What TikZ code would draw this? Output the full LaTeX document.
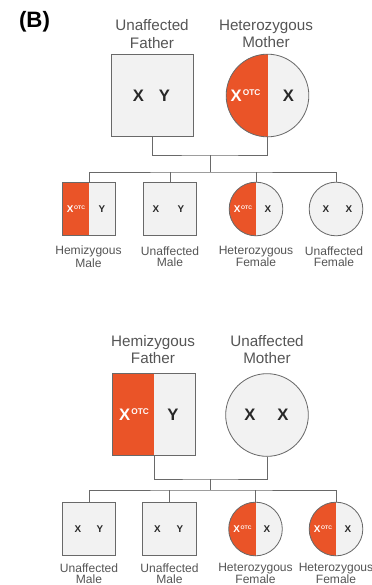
\documentclass[tikz,border=0pt]{standalone}
\usepackage{fontspec}
\setmainfont{Liberation Sans}
\usepackage{tikz}
\usetikzlibrary{calc,positioning}
\definecolor{otcred}{RGB}{234,84,40}
\definecolor{shapefill}{RGB}{242,242,242}
\definecolor{shapeedge}{RGB}{105,105,105}
\definecolor{labelgray}{RGB}{85,85,85}
\definecolor{allelecol}{RGB}{40,40,40}
\tikzset{
  parentsize/.style={minimum size=2.48cm},
  childsize/.style={minimum size=1.61cm},
  malebox/.style={rectangle,draw=shapeedge,fill=shapefill,line width=0.7pt,inner sep=0pt},
  femalecirc/.style={circle,draw=shapeedge,fill=shapefill,line width=0.7pt,inner sep=0pt},
  carrier/.style={path picture={\fill[otcred] (path picture bounding box.south west) rectangle (path picture bounding box.north);}},
  parentlabel/.style={align=center,text=labelgray,font=\fontsize{13}{15}\selectfont,inner sep=0pt},
  childlabel/.style={align=center,text=labelgray,font=\fontsize{10.3}{9.6}\selectfont,inner sep=0pt},
  bigallele/.style={text=allelecol,font=\fontsize{14.2}{15}\selectfont\bfseries,inner sep=0pt},
  smallallele/.style={text=allelecol,font=\fontsize{8.4}{9}\selectfont\bfseries,inner sep=0pt},
  mutallele/.style={text=white},
  pedline/.style={draw=shapeedge,line width=0.75pt}
}
\newcommand{\bigotc}{X\kern1pt\raisebox{5pt}{\fontsize{7.1}{7}\selectfont OTC}}
\newcommand{\smallotc}{X\kern0.5pt\raisebox{3pt}{\fontsize{4.4}{5}\selectfont OTC}}

\begin{document}
\begin{tikzpicture}[x=0.03cm,y=-0.03cm]
  \useasboundingbox (0,0) rectangle (372,585);
  \node[font=\fontsize{19}{19}\selectfont\bfseries] (panel) at (34.5,22) {(B)};

  % first family
  \node[malebox,parentsize] (fa1) at (152.5,95.5) {};
  \node[femalecirc,parentsize,carrier] (mo1) at (267.5,95.5) {};
  \node[parentlabel] (fa1lab) at (152,34) {Unaffected\\Father};
  \node[parentlabel] (mo1lab) at (266,34) {Heterozygous\\Mother};
  \node[bigallele] at ($(fa1)+(-14,0)$) {X};
  \node[bigallele] at ($(fa1)+(12,0)$) {Y};
  \node[bigallele,mutallele] at ($(mo1)+(-22,0)$) {\bigotc};
  \node[bigallele] at ($(mo1)+(21,0)$) {X};

  \node[malebox,childsize,carrier] (c11) at (89,209) {};
  \node[malebox,childsize] (c12) at (170,209) {};
  \node[femalecirc,childsize,carrier] (c13) at (256,209) {};
  \node[femalecirc,childsize] (c14) at (336,209) {};
  \node[smallallele,mutallele] at ($(c11)+(-13,0)$) {\smallotc};
  \node[smallallele] at ($(c11)+(13,0)$) {Y};
  \node[smallallele] at ($(c12)+(-14,0)$) {X};
  \node[smallallele] at ($(c12)+(11,0)$) {Y};
  \node[smallallele,mutallele] at ($(c13)+(-13,0)$) {\smallotc};
  \node[smallallele] at ($(c13)+(12,0)$) {X};
  \node[smallallele] at ($(c14)+(-10,0)$) {X};
  \node[smallallele] at ($(c14)+(13,0)$) {X};
  \node[childlabel] at (88.5,256.5) {Hemizygous\\Male};
  \node[childlabel] at (170,256.5) {Unaffected\\Male};
  \node[childlabel] at (256,256.5) {Heterozygous\\Female};
  \node[childlabel] at (334,256.5) {Unaffected\\Female};

  \coordinate (mate1) at (210,155);
  \coordinate (sib1) at (210,172);
  \draw[pedline] (fa1.south) |- (mate1) -| (mo1.south);
  \draw[pedline] (mate1) -- (sib1);
  \draw[pedline] (c11.north) |- (sib1) -| (c14.north);
  \draw[pedline] (c12.north) -- (c12.north |- sib1);
  \draw[pedline] (c13.north) -- (c13.north |- sib1);

  % second family
  \node[malebox,parentsize,carrier] (fa2) at (154,414.5) {};
  \node[femalecirc,parentsize] (mo2) at (267,415) {};
  \node[parentlabel] (fa2lab) at (153,349.5) {Hemizygous\\Father};
  \node[parentlabel] (mo2lab) at (267,349.5) {Unaffected\\Mother};
  \node[bigallele,mutallele] at ($(fa2)+(-20,0)$) {\bigotc};
  \node[bigallele] at ($(fa2)+(19,0)$) {Y};
  \node[bigallele] at ($(mo2)+(-17,0)$) {X};
  \node[bigallele] at ($(mo2)+(16,0)$) {X};

  \node[malebox,childsize] (c21) at (89,529) {};
  \node[malebox,childsize] (c22) at (169.5,529) {};
  \node[femalecirc,childsize,carrier] (c23) at (255.5,529) {};
  \node[femalecirc,childsize,carrier] (c24) at (336,529) {};
  \node[smallallele] at ($(c21)+(-11,0)$) {X};
  \node[smallallele] at ($(c21)+(11,0)$) {Y};
  \node[smallallele] at ($(c22)+(-12,0)$) {X};
  \node[smallallele] at ($(c22)+(10.5,0)$) {Y};
  \node[smallallele,mutallele] at ($(c23)+(-13,0)$) {\smallotc};
  \node[smallallele] at ($(c23)+(11.5,0)$) {X};
  \node[smallallele,mutallele] at ($(c24)+(-13,0)$) {\smallotc};
  \node[smallallele] at ($(c24)+(12,0)$) {X};
  \node[childlabel] at (89,573.5) {Unaffected\\Male};
  \node[childlabel] at (169.5,573.5) {Unaffected\\Male};
  \node[childlabel] at (255.5,573.5) {Heterozygous\\Female};
  \node[childlabel] at (336,573.5) {Heterozygous\\Female};

  \coordinate (mate2) at (210,479);
  \coordinate (sib2) at (210,490);
  \draw[pedline] (fa2.south) |- (mate2) -| (mo2.south);
  \draw[pedline] (mate2) -- (sib2);
  \draw[pedline] (c21.north) |- (sib2) -| (c24.north);
  \draw[pedline] (c22.north) -- (c22.north |- sib2);
  \draw[pedline] (c23.north) -- (c23.north |- sib2);
\end{tikzpicture}
\end{document}
